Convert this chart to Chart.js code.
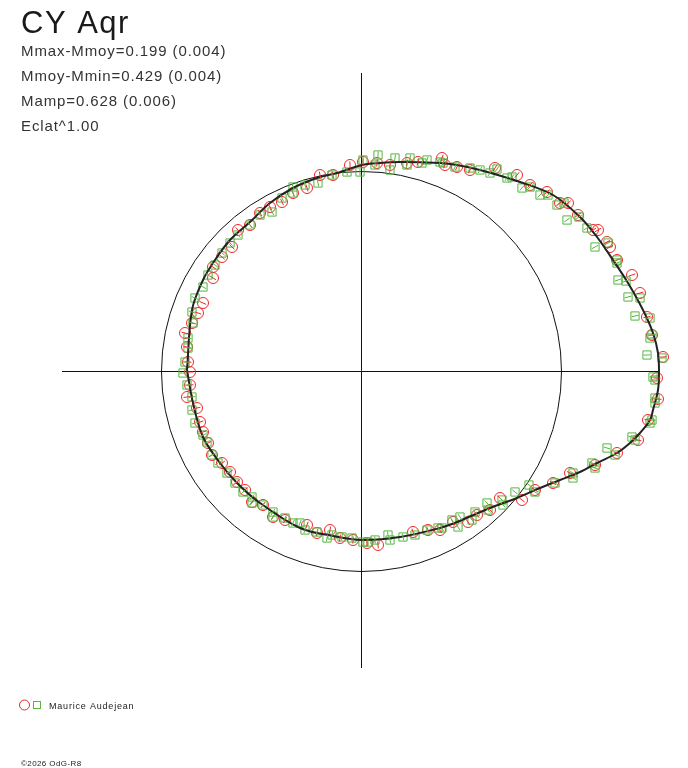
<!DOCTYPE html>
<html>
<head>
<meta charset="utf-8">
<script src="https://cdn.jsdelivr.net/npm/chart.js@4"></script>
<style>
  html, body { margin: 0; padding: 0; background: #fff; }
  #wrap { width: 688px; height: 768px; position: relative; }
</style>
</head>
<body>
<div id="wrap"><canvas id="myCanvas"></canvas></div>
<script>
// polar light-curve diagram, units: circle of mean magnitude has radius 200
var starName = 'CY Aqr';
var statLines = ['Mmax-Mmoy=0.199 (0.004)', 'Mmoy-Mmin=0.429 (0.004)', 'Mamp=0.628 (0.006)', 'Eclat^1.00'];
var observer = 'Maurice Audejean';
var copyright = '\u00A92026 OdG-R8';
var meanRadius = 200;

// red circles
var redX = [134,156,169,186,199,207,217,232,237,246,249,256,271,279,286,291,302,296,297,287,
            277,256,234,209,192,174,161,139,129,116,107,92,79,67,52,17,6,-8,-21,-31,
            -44,-54,-76,-88,-98,-109,-116,-124,-131,-139,-149,-153,-158,-161,-164,-174,-171,-171,-173,-174,
            -176,-169,-163,-158,-148,-148,-139,-129,-123,-111,-101,-91,-79,-68,-54,-41,-28,-11,2,16,
            29,46,57,81,84,96,109];
var redY = [203,196,186,179,168,168,156,141,141,129,124,111,96,78,54,36,14,-7,-28,-49,
            -69,-82,-94,-102,-112,-119,-129,-127,-139,-144,-151,-151,-159,-159,-161,-174,-172,-169,-167,-159,
            -162,-154,-149,-146,-134,-131,-119,-111,-101,-92,-84,-72,-61,-51,-37,-26,-14,-1,9,24,
            38,48,58,68,93,104,114,124,141,146,158,164,169,178,183,196,196,206,209,208,
            206,208,209,213,206,204,201];

// green squares
var greenX = [129,136,146,151,161,169,179,187,196,203,206,218,226,234,247,256,256,257,265,267,
              279,274,289,291,289,286,301,292,294,294,294,291,289,271,274,246,254,231,234,212,
              212,194,168,174,154,141,142,126,127,114,111,99,97,91,81,77,66,54,42,29,
              27,14,7,2,-9,-19,-29,-34,-44,-56,-61,-68,-76,-88,-88,-98,-109,-109,-118,-126,
              -134,-143,-149,-154,-158,-166,-169,-169,-174,-178,-176,-173,-173,-168,-169,-166,-158,-153,-146,-139,
              -131,-123,-111,-101,-89,-79,-68,-68,-56,-43,-29,-14,-1,2,14,17,29,34,46,49,
              61,66,79,82,94,109,119];
var greenY = [198,202,193,194,183,184,176,176,166,168,151,154,143,124,128,111,108,91,90,74,
              73,55,53,36,33,16,13,-6,-9,-27,-32,-49,-52,-66,-69,-77,-84,-92,-97,-102,
              -107,-112,-114,-121,-121,-129,-134,-132,-139,-141,-149,-146,-156,-149,-157,-157,-159,-164,-166,-169,
              -164,-169,-171,-171,-167,-166,-164,-167,-161,-159,-152,-152,-147,-146,-141,-134,-132,-126,-121,-112,
              -102,-92,-84,-71,-64,-52,-39,-26,-14,-2,9,23,33,48,59,73,84,96,106,118,
              128,136,146,156,159,173,178,184,186,188,196,199,199,211,206,216,201,213,206,213,
              208,211,209,208,204,203,201];

// fitted curve
var fitX = [-174,-169,-158,-146,-131,-111,-91,-68,-44,-24,1,19,39,79,96,119,159,192,219,236,
            252,267,282,292,297,298,297,292,289,279,269,256,236,219,199,179,156,129,96,79,
            39,1,-28,-61,-101,-124,-141,-158,-168,-174];
var fitY = [1,61,91,111,131,149,168,183,193,198,206,208,209,208,206,201,189,176,154,134,
            111,88,61,38,18,-1,-19,-39,-49,-62,-72,-82,-92,-101,-109,-117,-127,-137,-151,-157,
            -166,-169,-165,-157,-132,-112,-92,-66,-32,1];

var red = 'rgb(238,40,40)';
var green = 'rgb(86,182,64)';

function pairs(xs, ys) {
    return xs.map(function (v, i) { return { x: v, y: ys[i] }; });
}

var decor = {
    id: 'decor',
    beforeDatasetsDraw: function (chart) {
        var ctx = chart.ctx, x = chart.scales.x, y = chart.scales.y;
        var cx = Math.round(x.getPixelForValue(0)) + 0.5;
        var cy = Math.round(y.getPixelForValue(0)) + 0.5;
        ctx.save();
        ctx.strokeStyle = '#111';
        ctx.lineWidth = 1;
        ctx.beginPath();
        ctx.moveTo(x.getPixelForValue(-299), cy);
        ctx.lineTo(x.getPixelForValue(299), cy);
        ctx.moveTo(cx, y.getPixelForValue(298));
        ctx.lineTo(cx, y.getPixelForValue(-297));
        ctx.stroke();
        var r = x.getPixelForValue(meanRadius) - x.getPixelForValue(0);
        ctx.beginPath();
        ctx.arc(cx, cy, r, 0, Math.PI * 2);
        ctx.stroke();
        ctx.restore();
    },
    afterDatasetsDraw: function (chart) {
        // small radial error ticks through each point
        var ctx = chart.ctx;
        var cx = chart.scales.x.getPixelForValue(0), cy = chart.scales.y.getPixelForValue(0);
        ctx.save();
        ctx.lineWidth = 1;
        [0, 1].forEach(function (i) {
            var meta = chart.getDatasetMeta(i);
            ctx.strokeStyle = chart.data.datasets[i].borderColor;
            ctx.beginPath();
            meta.data.forEach(function (p) {
                var dx = p.x - cx, dy = p.y - cy, d = Math.hypot(dx, dy) || 1;
                var ux = dx / d * 3.5, uy = dy / d * 3.5;
                ctx.moveTo(p.x - ux, p.y - uy);
                ctx.lineTo(p.x + ux, p.y + uy);
            });
            ctx.stroke();
        });
        ctx.restore();
    },
    afterDraw: function (chart) {
        var ctx = chart.ctx;
        ctx.save();
        ctx.textBaseline = 'alphabetic';
        ctx.textAlign = 'left';
        ctx.fillStyle = '#1a1a1a';
        ctx.font = '31px "Liberation Sans", Arial, sans-serif';
        ctx.letterSpacing = '1.5px';
        ctx.fillText(starName, 21, 33);
        ctx.fillStyle = '#333';
        ctx.font = '15px "Liberation Sans", Arial, sans-serif';
        ctx.letterSpacing = '0.9px';
        statLines.forEach(function (t, i) { ctx.fillText(t, 21, 56 + i * 25); });
        // legend
        ctx.lineWidth = 1;
        ctx.strokeStyle = red;
        ctx.beginPath();
        ctx.arc(24.5, 705, 5, 0, Math.PI * 2);
        ctx.stroke();
        ctx.strokeStyle = green;
        ctx.strokeRect(33.5, 701.5, 7, 7);
        ctx.fillStyle = '#222';
        ctx.font = '9px "Liberation Sans", Arial, sans-serif';
        ctx.letterSpacing = '0.8px';
        ctx.fillText(observer, 49, 709);
        ctx.font = '8px "Liberation Sans", Arial, sans-serif';
        ctx.letterSpacing = '0.4px';
        ctx.fillText(copyright, 21, 766);
        ctx.restore();
    }
};

var canvas = document.getElementById('myCanvas');
var context = canvas.getContext('2d');

var myChart = new Chart(context, {
    type: 'scatter',
    data: {
        datasets: [{
            label: 'red',
            data: pairs(redX, redY),
            borderColor: red,
            backgroundColor: 'rgba(0,0,0,0)',
            pointStyle: 'circle',
            pointRadius: 5.5,
            borderWidth: 1,
            clip: false,
            order: 2
        }, {
            label: 'green',
            data: pairs(greenX, greenY),
            borderColor: green,
            backgroundColor: 'rgba(0,0,0,0)',
            pointStyle: 'rect',
            pointRadius: 5.8,
            borderWidth: 1,
            clip: false,
            order: 1
        }, {
            label: 'fit',
            data: pairs(fitX, fitY),
            showLine: true,
            borderColor: '#222',
            borderWidth: 2,
            pointRadius: 0,
            tension: 0.35,
            clip: false,
            order: 0
        }]
    },
    options: {
        responsive: true,
        maintainAspectRatio: false,
        animation: false,
        layout: { padding: { left: 61, right: 27, top: 71, bottom: 97 } },
        scales: {
            x: { type: 'linear', min: -300, max: 300, display: false },
            y: { type: 'linear', min: -300, max: 300, display: false }
        },
        plugins: {
            legend: { display: false },
            tooltip: { enabled: false },
            title: { display: false }
        }
    },
    plugins: [decor]
});
</script>
</body>
</html>
